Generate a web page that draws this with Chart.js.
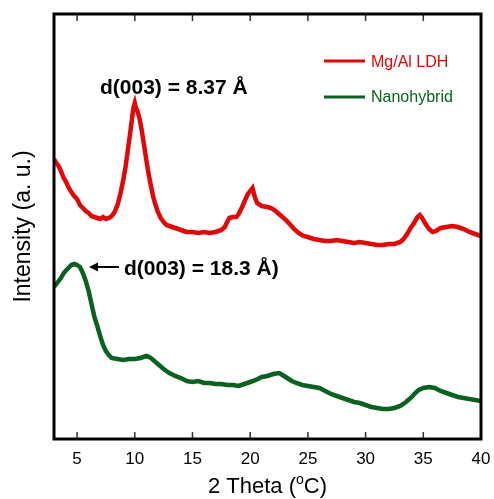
<!DOCTYPE html>
<html>
<head>
<meta charset="utf-8">
<script src="https://cdn.jsdelivr.net/npm/chart.js@4.4.0/dist/chart.umd.min.js"></script>
<style>
  html, body { margin: 0; padding: 0; background: #fff; }
  #wrap { width: 494px; height: 499px; }
</style>
</head>
<body>
<div id="wrap"><canvas id="xrdChart" width="494" height="499"></canvas></div>
<script>
// 2 theta positions and intensities (arbitrary units)
const ldhTheta = [3.0, 3.2, 3.4, 3.6, 3.8, 4.0, 4.25, 4.5, 4.75, 5.0, 5.25, 5.5, 5.75, 6.0, 6.25, 6.5, 6.75, 7.0, 7.25, 7.5, 7.75, 8.0, 8.25, 8.5, 8.75, 9.0, 9.2, 9.4, 9.6, 9.8, 9.9, 10.0, 10.1, 10.2, 10.3, 10.4, 10.6, 10.8, 11.0, 11.2, 11.4, 11.6, 11.8, 12.0, 12.25, 12.5, 12.75, 13.0, 13.5, 14.0, 14.5, 15.0, 15.5, 16.0, 16.5, 17.0, 17.5, 17.8, 18.0, 18.2, 18.5, 18.8, 19.0, 19.3, 19.6, 19.8, 20.0, 20.2, 20.4, 20.6, 21.0, 21.5, 21.8, 22.1, 22.4, 22.8, 23.1, 23.5, 23.8, 24.2, 24.6, 25.0, 25.5, 26.0, 26.5, 27.0, 27.5, 28.0, 28.5, 29.0, 29.5, 30.0, 30.5, 31.0, 31.5, 32.0, 32.5, 33.0, 33.3, 33.6, 33.9, 34.2, 34.5, 34.7, 34.9, 35.2, 35.5, 35.8, 36.1, 36.5, 37.0, 37.5, 38.0, 38.5, 39.0, 39.5, 40.0];
const ldhIntensity = [280, 276, 273, 268, 262, 258, 252, 247, 243, 240, 234, 231, 228, 226, 223, 222, 221, 220, 222, 220, 221, 223, 227, 234, 245, 259, 272, 289, 306, 324, 332, 336, 331, 329, 325, 321, 309, 294, 279, 265, 253, 242, 234, 227, 221, 217, 214, 213, 211, 209, 207, 207, 206, 207, 206, 207, 209, 212, 217, 221, 222, 222, 225, 232, 240, 245, 248, 251, 242, 236, 233, 232, 231, 229, 226, 222, 219, 214, 210, 206, 203, 202, 200, 199, 198, 198, 199, 198, 197, 196, 197, 196, 195, 194, 194, 195, 195, 197, 200, 205, 211, 216, 222, 224, 221, 215, 210, 207, 208, 211, 212, 213, 212, 210, 207, 205, 203];

const hybridTheta = [3.0, 3.2, 3.4, 3.6, 3.8, 4.0, 4.25, 4.5, 4.75, 5.0, 5.25, 5.5, 5.75, 6.0, 6.25, 6.5, 6.75, 7.0, 7.25, 7.5, 7.75, 8.0, 8.5, 9.0, 9.5, 10.0, 10.5, 11.0, 11.25, 11.5, 12.0, 12.5, 13.0, 13.5, 14.0, 14.5, 15.0, 15.5, 16.0, 16.5, 17.0, 17.5, 18.0, 18.5, 19.0, 19.5, 20.0, 20.5, 21.0, 21.5, 22.0, 22.5, 22.8, 23.2, 23.6, 24.0, 24.5, 25.0, 25.5, 26.0, 26.5, 27.0, 27.5, 28.0, 28.5, 29.0, 29.5, 30.0, 30.5, 31.0, 31.5, 32.0, 32.5, 33.0, 33.5, 34.0, 34.3, 34.6, 35.0, 35.5, 36.0, 36.5, 37.0, 37.5, 38.0, 38.5, 39.0, 39.5, 40.0];
const hybridIntensity = [152, 155, 158, 161, 165, 168, 171, 174, 175, 174, 172, 166, 158, 148, 135, 122, 113, 103, 94, 88, 84, 81, 80, 79, 80, 80, 81, 83, 82, 80, 75, 70, 66, 63, 61, 58, 57, 58, 56, 56, 55, 55, 54, 54, 53, 55, 57, 59, 62, 63, 65, 66, 64, 61, 58, 56, 54, 53, 52, 51, 48, 45, 43, 41, 39, 37, 36, 34, 32, 31, 30, 30, 31, 33, 37, 42, 46, 49, 51, 52, 51, 48, 46, 44, 42, 41, 40, 39, 38];

const xTicks = [5, 10, 15, 20, 25, 30, 35, 40];
const seriesNames = ['Mg/Al LDH', 'Nanohybrid'];
const seriesColors = ['#e00808', '#0b6220'];

const toPoints = (xs, ys) => xs.map((x, i) => ({ x: x, y: ys[i] }));

// frame, inward ticks, legend, annotations and x title with superscript
const decorations = {
  id: 'decorations',
  afterDraw(chart) {
    const ctx = chart.ctx;
    const a = chart.chartArea;
    const xs = chart.scales.x;
    ctx.save();

    ctx.strokeStyle = '#333';
    ctx.lineWidth = 1.5;
    xTicks.forEach(v => {
      const px = xs.getPixelForValue(v);
      ctx.beginPath();
      ctx.moveTo(px, a.bottom);
      ctx.lineTo(px, a.bottom - 7);
      ctx.moveTo(px, a.top);
      ctx.lineTo(px, a.top + 7);
      ctx.stroke();
    });

    ctx.strokeStyle = '#000';
    ctx.lineWidth = 3;
    ctx.strokeRect(a.left, a.top, a.right - a.left, a.bottom - a.top);

    // legend
    ctx.lineWidth = 3;
    ctx.font = '16px "Liberation Sans", Arial, sans-serif';
    ctx.textBaseline = 'alphabetic';
    ctx.textAlign = 'left';
    [[61, 67], [97, 102]].forEach((pos, i) => {
      ctx.strokeStyle = seriesColors[i];
      ctx.beginPath();
      ctx.moveTo(324, pos[0]);
      ctx.lineTo(365, pos[0]);
      ctx.stroke();
      ctx.fillStyle = seriesColors[i];
      ctx.fillText(seriesNames[i], 371, pos[1]);
    });

    // annotations
    ctx.fillStyle = '#000';
    ctx.font = 'bold 21px "Liberation Sans", Arial, sans-serif';
    ctx.fillText('d(003) = 8.37 Å', 100, 94);
    ctx.fillText('d(003) = 18.3 Å)', 124, 275);
    ctx.strokeStyle = '#000';
    ctx.lineWidth = 2;
    ctx.beginPath();
    ctx.moveTo(119, 267);
    ctx.lineTo(95, 267);
    ctx.stroke();
    ctx.beginPath();
    ctx.moveTo(89, 267);
    ctx.lineTo(98, 262.5);
    ctx.lineTo(98, 271.5);
    ctx.closePath();
    ctx.fill();

    // x title: 2 Theta (oC) with raised o
    const big = '22px "Liberation Sans", Arial, sans-serif';
    const small = '14px "Liberation Sans", Arial, sans-serif';
    ctx.font = big;
    const p1 = '2 Theta (';
    const p3 = 'C)';
    const w1 = ctx.measureText(p1).width;
    const w3 = ctx.measureText(p3).width;
    ctx.font = small;
    const w2 = ctx.measureText('o').width;
    const cx = (a.left + a.right) / 2;
    let x0 = cx - (w1 + w2 + w3) / 2;
    const base = 493;
    ctx.font = big;
    ctx.fillText(p1, x0, base);
    ctx.font = small;
    ctx.fillText('o', x0 + w1, base - 9);
    ctx.font = big;
    ctx.fillText(p3, x0 + w1 + w2, base);

    ctx.restore();
  }
};

new Chart(document.getElementById('xrdChart'), {
  type: 'line',
  data: {
    datasets: [
      {
        label: seriesNames[0],
        data: toPoints(ldhTheta, ldhIntensity),
        borderColor: seriesColors[0],
        borderWidth: 4.5,
        pointRadius: 0,
        tension: 0,
      },
      {
        label: seriesNames[1],
        data: toPoints(hybridTheta, hybridIntensity),
        borderColor: seriesColors[1],
        borderWidth: 4.5,
        pointRadius: 0,
        tension: 0,
      },
    ],
  },
  options: {
    responsive: false,
    animation: false,
    layout: { padding: { top: 14, right: 13, left: 0, bottom: 0 } },
    plugins: {
      legend: { display: false },
      tooltip: { enabled: false },
    },
    scales: {
      x: {
        type: 'linear',
        min: 3,
        max: 40,
        grid: { display: false, drawTicks: false },
        border: { display: false },
        afterBuildTicks: (axis) => { axis.ticks = xTicks.map(v => ({ value: v })); },
        afterFit: (axis) => {
          axis.height = 60;
          axis.paddingLeft = 0;
          axis.paddingRight = 0;
        },
        ticks: {
          padding: 10,
          color: '#000',
          font: { size: 17, family: '"Liberation Sans", Arial, sans-serif' },
          maxRotation: 0,
        },
      },
      y: {
        min: 0,
        max: 425,
        grid: { display: false, drawTicks: false },
        border: { display: false },
        ticks: { display: false },
        afterFit: (axis) => { axis.width = 54; },
        title: {
          display: true,
          text: 'Intensity (a. u.)',
          color: '#000',
          padding: { top: 10, bottom: 0 },
          font: { size: 23, family: '"Liberation Sans", Arial, sans-serif' },
        },
      },
    },
  },
  plugins: [decorations],
});
</script>
</body>
</html>
